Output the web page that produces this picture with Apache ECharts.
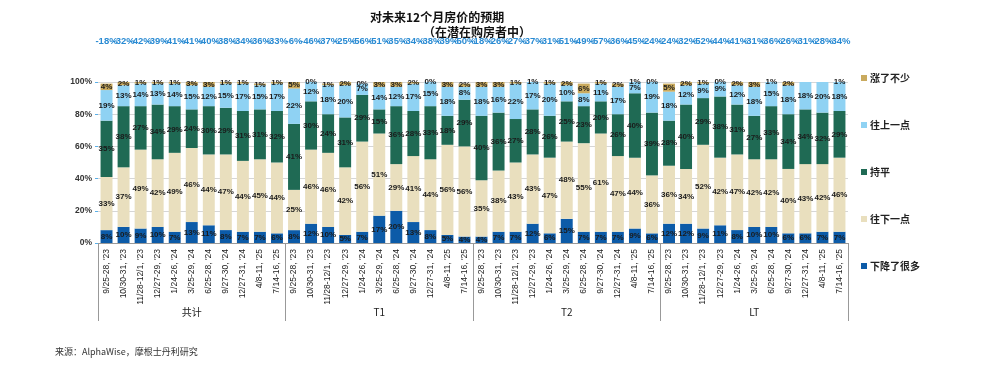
<!DOCTYPE html>
<html>
<head>
<meta charset="utf-8">
<script src="https://cdn.jsdelivr.net/npm/echarts@6/dist/echarts.min.js"></script>
<style>
html,body{margin:0;padding:0;background:#fff;}
#chart{width:1000px;height:375px;}
</style>
</head>
<body>
<div id="chart"></div>
<script>
const dateLabels = ["9/25-28, '23","10/30-31, '23","11/28-12/1, '23","12/27-29, '23","1/24-26, '24","3/25-29, '24","6/25-28, '24","9/27-30, '24","12/27-31, '24","4/8-11, '25","7/14-16, '25"];
const groups = ["共计","T1","T2","LT"];
const seriesNames = ["下降了很多","往下一点","持平","往上一点","涨了不少"];
const colors = ["#0C5BA8","#E9DFBE","#1F6A54","#8FD2F3","#C9AA5E"];

// per group, 11 survey waves each
const downMuch = [8,10,9,10,7,13,11,8,7,7,6,  8,12,10,5,7,17,20,13,8,5,4,  4,7,7,12,6,15,7,7,7,9,6,  12,12,9,11,8,10,10,6,6,7,7];
const downLittle = [33,37,49,42,49,46,44,47,44,45,44,  25,46,46,42,56,51,29,41,44,56,56,  35,38,43,43,47,48,55,61,47,44,36,  36,34,52,42,47,42,42,40,43,42,46];
const flat = [35,38,27,34,29,24,30,29,31,31,32,  41,30,24,31,29,15,36,28,33,18,29,  40,36,27,28,26,25,23,20,26,40,39,  28,40,29,38,31,27,33,34,34,32,29];
const upLittle = [19,13,14,13,14,15,12,15,17,15,17,  22,12,18,20,7,14,12,17,15,18,8,  18,16,22,17,20,10,8,11,17,7,19,  18,12,9,9,12,18,15,18,18,20,18];
const upMuch = [4,2,1,1,1,3,3,1,1,1,1,  5,0,1,2,0,3,3,2,0,3,2,  3,3,1,1,1,2,6,1,2,1,0,  5,2,1,0,2,3,1,2,0,0,1];
const netLabels = [-18,-32,-42,-39,-41,-41,-40,-38,-34,-36,-33,  -6,-46,-37,-25,-56,-51,-35,-34,-38,-39,-50,  -18,-26,-27,-37,-31,-51,-49,-57,-36,-45,-24,  -24,-32,-52,-44,-41,-31,-36,-26,-31,-28,-34];
const yTicks = [0,20,40,60,80,100];

const categories = [];
groups.forEach(function(){ dateLabels.forEach(function(d){ categories.push(d); }); });
const valueSets = [downMuch, downLittle, flat, upLittle, upMuch];

const chart = echarts.init(document.getElementById('chart'), null, {renderer:'canvas'});
const font = "'Liberation Sans', Arial, 'Noto Sans CJK SC', sans-serif";
const cjkFont = "'Noto Sans CJK SC', 'Liberation Serif', serif";

const series = seriesNames.map(function(name, i){
  return {
    name: name,
    type: 'bar',
    stack: 'total',
    xAxisIndex: 0,
    yAxisIndex: 0,
    barCategoryGap: '30%',
    itemStyle: {color: colors[i]},
    label: {
      show: true,
      position: 'inside',
      formatter: '{c}%',
      fontSize: 8,
      fontWeight: 'bold',
      color: '#1a1a1a',
      fontFamily: font
    },
    labelLayout: {hideOverlap: false},
    data: valueSets[i]
  };
});

chart.setOption({
  animation: false,
  backgroundColor: '#fff',
  graphic: [
    {type:'text', left: 370, top: 11, style:{text:'对未来12个月房价的预期', font:'bold 12px ' + cjkFont, fill:'#111'}},
    {type:'text', left: 423, top: 26, style:{text:'（在潜在购房者中）', font:'bold 12px ' + cjkFont, fill:'#111'}},
    {type:'text', left: 55, top: 347, style:{text:'来源：AlphaWise，摩根士丹利研究', font:'9px ' + cjkFont, fill:'#333'}}
  ],
  legend: {
    orient: 'vertical',
    left: 856,
    top: 68,
    itemWidth: 6,
    itemHeight: 6,
    itemGap: 37,
    icon: 'rect',
    data: ["涨了不少","往上一点","持平","往下一点","下降了很多"],
    textStyle: {fontSize: 10, fontWeight: 'bold', color: '#222', fontFamily: cjkFont, padding:[0,0,0,-2]}
  },
  grid: {left: 98, right: 152, top: 82, bottom: 132, containLabel: false},
  xAxis: [
    {
      type: 'category',
      data: categories,
      position: 'bottom',
      axisLine: {show: true, lineStyle: {color: '#999', width: 1}},
      axisTick: {show: false},
      axisLabel: {interval: 0, rotate: 90, fontSize: 8.5, color: '#222', margin: 6, fontFamily: font}
    },
    {
      type: 'category',
      data: groups,
      position: 'bottom',
      axisLine: {show: true, lineStyle: {color: '#999', width: 1}},
      axisTick: {show: true, length: 78, lineStyle: {color: '#999'}},
      axisLabel: {fontSize: 10, color: '#222', margin: 64, fontFamily: cjkFont}
    },
    {
      type: 'category',
      data: netLabels.map(function(v){ return v + '%'; }),
      position: 'top',
      axisLine: {show: false},
      axisTick: {show: false},
      axisLabel: {interval: 0, fontSize: 9.5, fontWeight: 'bold', color: '#2A8BD3', margin: 36, fontFamily: "'Liberation Sans Narrow', 'Liberation Sans', Arial, sans-serif"}
    }
  ],
  yAxis: {
    type: 'value',
    min: 0,
    max: 100,
    interval: 20,
    axisLine: {show: false},
    axisTick: {show: true, length: 3, lineStyle: {color: '#5BB0E8'}},
    axisLabel: {formatter: function(v){ return yTicks.indexOf(v) >= 0 ? v + '%' : ''; }, fontSize: 8.5, fontWeight: 'bold', color: '#333', margin: 6, fontFamily: font},
    splitLine: {show: true, lineStyle: {color: '#d6d6d6', width: 1}}
  },
  series: series
});
</script>
</body>
</html>
